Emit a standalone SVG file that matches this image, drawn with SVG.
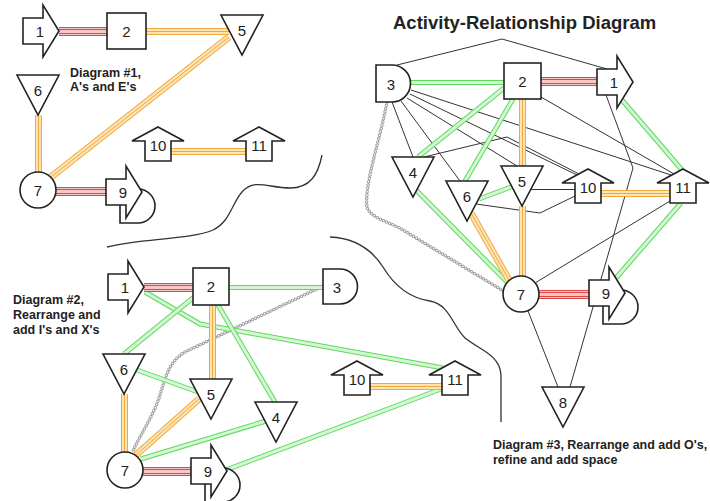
<svg xmlns="http://www.w3.org/2000/svg" width="710" height="501" viewBox="0 0 710 501">
<style>
.n{fill:#fff;stroke:#222;stroke-width:1.6;stroke-linejoin:miter}
.t{font-family:"Liberation Sans",Arial,sans-serif;font-size:15px;fill:#222;text-anchor:middle;dominant-baseline:central}
.cap{font-family:"Liberation Sans",Arial,sans-serif;font-size:12.5px;font-weight:bold;fill:#222}
.title{font-family:"Liberation Sans",Arial,sans-serif;font-size:18.5px;font-weight:bold;fill:#222}
.sep{fill:none;stroke:#333;stroke-width:1.3}
.a1{fill:none;stroke:#e04848;stroke-width:9}
.a2{fill:none;stroke:#f9c6c6;stroke-width:7}
.a3{fill:none;stroke:#e04848;stroke-width:5}
.a4{fill:none;stroke:#f9c6c6;stroke-width:3}
.e1{fill:none;stroke:#f0a840;stroke-width:7}
.e2{fill:none;stroke:#fde4b4;stroke-width:5}
.e3{fill:none;stroke:#f0a840;stroke-width:1}
.i1{fill:none;stroke:#5fd85f;stroke-width:5;stroke-linejoin:round}
.i2{fill:none;stroke:#d2f7d2;stroke-width:3;stroke-linejoin:round}
.o{fill:none;stroke:#333;stroke-width:1;stroke-linejoin:round}
.x1{fill:none;stroke:#a0a0a0;stroke-width:3.6;stroke-dasharray:0 3.4;stroke-linecap:round}
.x2{fill:none;stroke:#fff;stroke-width:1.6;stroke-dasharray:0 3.4;stroke-linecap:round}
</style>
<defs>
<path id="p1a" d="M59,31.5 H107"/>
<path id="p1b" d="M56,191.5 H106"/>
<path id="p1c" d="M146,31.5 H229"/>
<path id="p1d" d="M229,37 L51,177"/>
<path id="p1e" d="M38.5,115 V172"/>
<path id="p1f" d="M171,151.5 H246"/>
<path id="p2a" d="M144,287.5 H193"/>
<path id="p2b" d="M143,471.5 H191"/>
<path id="p2c" d="M212.5,305 V379"/>
<path id="p2d" d="M124.5,394 V452"/>
<path id="p2e" d="M199,399 L136,455"/>
<path id="p2f" d="M370,386.5 H442"/>
<path id="p2g" d="M229,287.5 H323"/>
<path id="p2h" d="M145,292 L200,324 L443,368"/>
<path id="p2i" d="M194,297 L124,354"/>
<path id="p2j" d="M218,305 L275,402"/>
<path id="p2k" d="M137,370 L198,392"/>
<path id="p2l" d="M266,421 L141,459"/>
<path id="p2m" d="M226,470 L441,389"/>
<path id="p2x" d="M323,286 L185,352 C168,362 165,380 160,395 C154,415 140,435 133,451"/>
<path id="p3a" d="M541,81.5 H597"/>
<path id="p3b" d="M539,294.5 H589"/>
<path id="p3c" d="M522.5,99 V166"/>
<path id="p3d" d="M522.5,206 V276"/>
<path id="p3e" d="M471,213 L509,280"/>
<path id="p3f" d="M601,193.5 H670"/>
<path id="p3g" d="M411,82.5 H504"/>
<path id="p3h" d="M504,88 L418,157"/>
<path id="p3i" d="M513,99 L465,181"/>
<path id="p3j" d="M479,199 L511,187"/>
<path id="p3k" d="M416,190 L507,282"/>
<path id="p3l" d="M622,100 L682,170"/>
<path id="p3m" d="M681,203 L616,278"/>
<path id="p3x" d="M387,102 C380,140 364,185 367,207 C370,218 390,222 403,230 L505,292"/>
</defs>
<rect width="710" height="501" fill="#fff"/>
<text class="title" x="393" y="29">Activity-Relationship Diagram</text>
<text class="cap" x="70" y="77">Diagram #1,</text>
<text class="cap" x="70" y="91">A's and E's</text>
<text class="cap" x="13" y="304">Diagram #2,</text>
<text class="cap" x="13" y="319">Rearrange and</text>
<text class="cap" x="13" y="334">add I's and X's</text>
<text class="cap" x="493" y="449">Diagram #3, Rearrange and add O's,</text>
<text class="cap" x="493" y="464">refine and add space</text>
<g id="separators">
<path class="sep" d="M322,155 C318,175 310,188 290,188 C268,188 255,178 242,192 C232,203 230,222 213,230 C190,240 140,238 107,247"/>
<path class="sep" d="M330,237 C355,238 372,250 383,267 C395,287 410,298 430,301 C450,305 452,325 465,338 C480,350 500,355 501,375 L501,422"/>
</g>
<g id="connectors">
<g id="c-o">
<path class="o" d="M397,65 L502,39 L607,69"/>
<path class="o" d="M392,102 L413,157"/>
<path class="o" d="M401,101 L460,181"/>
<path class="o" d="M407,98 L517,166"/>
<path class="o" d="M410,94 L577,175"/>
<path class="o" d="M411,90 L671,175"/>
<path class="o" d="M541,97 L674,174"/>
<path class="o" d="M424,157 L507,137 L579,174"/>
<path class="o" d="M531,189.5 H575"/>
<path class="o" d="M476,204 L540,213 L575,196"/>
<path class="o" d="M535,283 L670,201"/>
<path class="o" d="M606,95 L633,168 L570,387"/>
<path class="o" d="M528,311 L558,387"/>
</g>
<g id="c-x">
<use href="#p2x" class="x1"/><use href="#p2x" class="x2"/>
<use href="#p3x" class="x1"/><use href="#p3x" class="x2"/>
</g>
<g id="c-i">
<use href="#p2g" class="i1"/><use href="#p2g" class="i2"/>
<use href="#p2h" class="i1"/><use href="#p2h" class="i2"/>
<use href="#p2i" class="i1"/><use href="#p2i" class="i2"/>
<use href="#p2j" class="i1"/><use href="#p2j" class="i2"/>
<use href="#p2k" class="i1"/><use href="#p2k" class="i2"/>
<use href="#p2l" class="i1"/><use href="#p2l" class="i2"/>
<use href="#p2m" class="i1"/><use href="#p2m" class="i2"/>
<use href="#p3g" class="i1"/><use href="#p3g" class="i2"/>
<use href="#p3h" class="i1"/><use href="#p3h" class="i2"/>
<use href="#p3i" class="i1"/><use href="#p3i" class="i2"/>
<use href="#p3j" class="i1"/><use href="#p3j" class="i2"/>
<use href="#p3k" class="i1"/><use href="#p3k" class="i2"/>
<use href="#p3l" class="i1"/><use href="#p3l" class="i2"/>
<use href="#p3m" class="i1"/><use href="#p3m" class="i2"/>
</g>
<g id="c-e">
<use href="#p1c" class="e1"/><use href="#p1c" class="e2"/><use href="#p1c" class="e3"/>
<use href="#p1d" class="e1"/><use href="#p1d" class="e2"/><use href="#p1d" class="e3"/>
<use href="#p1e" class="e1"/><use href="#p1e" class="e2"/><use href="#p1e" class="e3"/>
<use href="#p1f" class="e1"/><use href="#p1f" class="e2"/><use href="#p1f" class="e3"/>
<use href="#p2c" class="e1"/><use href="#p2c" class="e2"/><use href="#p2c" class="e3"/>
<use href="#p2d" class="e1"/><use href="#p2d" class="e2"/><use href="#p2d" class="e3"/>
<use href="#p2e" class="e1"/><use href="#p2e" class="e2"/><use href="#p2e" class="e3"/>
<use href="#p2f" class="e1"/><use href="#p2f" class="e2"/><use href="#p2f" class="e3"/>
<use href="#p3c" class="e1"/><use href="#p3c" class="e2"/><use href="#p3c" class="e3"/>
<use href="#p3d" class="e1"/><use href="#p3d" class="e2"/><use href="#p3d" class="e3"/>
<use href="#p3e" class="e1"/><use href="#p3e" class="e2"/><use href="#p3e" class="e3"/>
<use href="#p3f" class="e1"/><use href="#p3f" class="e2"/><use href="#p3f" class="e3"/>
</g>
<g id="c-a">
<use href="#p1a" class="a1"/><use href="#p1a" class="a2"/><use href="#p1a" class="a3"/><use href="#p1a" class="a4"/>
<use href="#p1b" class="a1"/><use href="#p1b" class="a2"/><use href="#p1b" class="a3"/><use href="#p1b" class="a4"/>
<use href="#p2a" class="a1"/><use href="#p2a" class="a2"/><use href="#p2a" class="a3"/><use href="#p2a" class="a4"/>
<use href="#p2b" class="a1"/><use href="#p2b" class="a2"/><use href="#p2b" class="a3"/><use href="#p2b" class="a4"/>
<use href="#p3a" class="a1"/><use href="#p3a" class="a2"/><use href="#p3a" class="a3"/><use href="#p3a" class="a4"/>
<use href="#p3b" class="a1"/><use href="#p3b" class="a2"/><use href="#p3b" class="a3"/><use href="#p3b" class="a4"/>
</g>
</g>
<g id="d1-n1"><path class="n" d="M23,18 H43 V5 L59,31 L43,57 V44 H23 Z"/><text class="t" x="40" y="31">1</text></g>
<g id="d1-n2"><rect class="n" x="107" y="13" width="39" height="36"/><text class="t" x="126.5" y="31">2</text></g>
<g id="d1-n5"><path class="n" d="M221,15 H263 L242,55 Z"/><text class="t" x="242" y="30">5</text></g>
<g id="d1-n6"><path class="n" d="M17,75 H59 L38,115 Z"/><text class="t" x="38" y="90">6</text></g>
<g id="d1-n7"><circle class="n" cx="38" cy="190" r="18"/><text class="t" x="38" y="190">7</text></g>
<g id="d1-n9"><path class="n" d="M120,189 H138 A17,17 0 0 1 138,223 H120 Z"/><path class="n" d="M106,179 H126 V166 L142,192 L126,218 V205 H106 Z"/><text class="t" x="123" y="192">9</text></g>
<g id="d1-n10"><path class="n" d="M158,127 L184,141 H171 V161 H145 V141 H132 Z"/><text class="t" x="158" y="145">10</text></g>
<g id="d1-n11"><path class="n" d="M259,127 L285,141 H272 V161 H246 V141 H233 Z"/><text class="t" x="259" y="145">11</text></g>
<g id="d2-n1"><path class="n" d="M108,274 H128 V261 L144,287 L128,313 V300 H108 Z"/><text class="t" x="125" y="287">1</text></g>
<g id="d2-n2"><rect class="n" x="193" y="268" width="36" height="37"/><text class="t" x="211" y="286">2</text></g>
<g id="d2-n3"><path class="n" d="M323,269 H340 A17.5,17.5 0 0 1 340,304 H323 Z"/><text class="t" x="337" y="287">3</text></g>
<g id="d2-n4"><path class="n" d="M255,402 H297 L276,442 Z"/><text class="t" x="276" y="417">4</text></g>
<g id="d2-n5"><path class="n" d="M190,379 H232 L211,419 Z"/><text class="t" x="211" y="394">5</text></g>
<g id="d2-n6"><path class="n" d="M103,354 H145 L124,394 Z"/><text class="t" x="124" y="369">6</text></g>
<g id="d2-n7"><circle class="n" cx="125" cy="470" r="18"/><text class="t" x="125" y="470">7</text></g>
<g id="d2-n9"><path class="n" d="M205,468 H223 A17,17 0 0 1 223,502 H205 Z"/><path class="n" d="M191,458 H211 V445 L227,471 L211,497 V484 H191 Z"/><text class="t" x="208" y="471">9</text></g>
<g id="d2-n10"><path class="n" d="M357,361 L383,375 H370 V395 H344 V375 H331 Z"/><text class="t" x="357" y="379">10</text></g>
<g id="d2-n11"><path class="n" d="M455,361 L481,375 H468 V395 H442 V375 H429 Z"/><text class="t" x="455" y="379">11</text></g>
<g id="d3-n1"><path class="n" d="M597,69 H617 V56 L633,82 L617,108 V95 H597 Z"/><text class="t" x="614" y="82">1</text></g>
<g id="d3-n2"><rect class="n" x="504" y="63" width="37" height="36"/><text class="t" x="522.5" y="81">2</text></g>
<g id="d3-n3"><path class="n" d="M376,65 H392 A18.5,18.5 0 0 1 392,102 H376 Z"/><text class="t" x="391" y="84">3</text></g>
<g id="d3-n4"><path class="n" d="M392,157 H434 L413,197 Z"/><text class="t" x="413" y="172">4</text></g>
<g id="d3-n5"><path class="n" d="M501,166 H543 L522,206 Z"/><text class="t" x="522" y="181">5</text></g>
<g id="d3-n6"><path class="n" d="M446,181 H488 L467,221 Z"/><text class="t" x="467" y="196">6</text></g>
<g id="d3-n7"><circle class="n" cx="521" cy="294" r="18"/><text class="t" x="521" y="294">7</text></g>
<g id="d3-n8"><path class="n" d="M542,387 H584 L563,427 Z"/><text class="t" x="563" y="402">8</text></g>
<g id="d3-n9"><path class="n" d="M603,290 H621 A17,17 0 0 1 621,324 H603 Z"/><path class="n" d="M589,280 H609 V267 L625,293 L609,319 V306 H589 Z"/><text class="t" x="606" y="293">9</text></g>
<g id="d3-n10"><path class="n" d="M588,169 L614,183 H601 V203 H575 V183 H562 Z"/><text class="t" x="588" y="187">10</text></g>
<g id="d3-n11"><path class="n" d="M683,169 L709,183 H696 V203 H670 V183 H657 Z"/><text class="t" x="683" y="187">11</text></g>
</svg>
